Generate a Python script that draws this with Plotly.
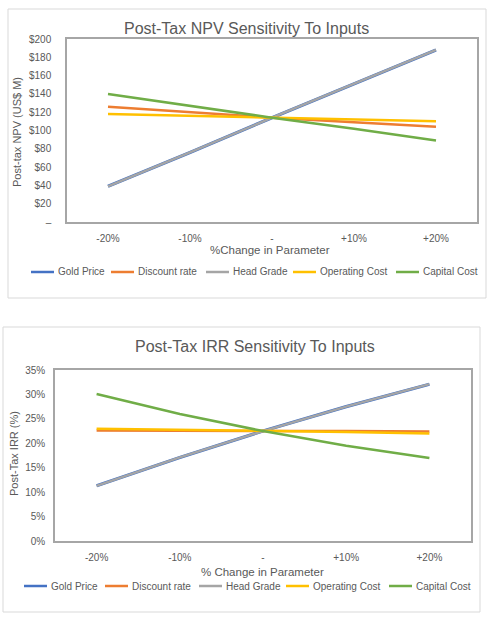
import plotly.graph_objects as go

W, H = 487, 621

categories = ["-20%", "-10%", "-", "+10%", "+20%"]
series_names = ["Gold Price", "Discount rate", "Head Grade", "Operating Cost", "Capital Cost"]
series_colors = ["#4472C4", "#ED7D31", "#A5A5A5", "#FFC000", "#70AD47"]

# Post-tax NPV (US$ M)
npv_gold = [39, 76, 114, 151, 188]
npv_discount = [126, 120, 114, 109, 104]
npv_grade = [39, 76, 114, 151, 188]
npv_opcost = [118, 116, 114, 112, 110]
npv_capcost = [140, 127, 114, 102, 89]

# Post-tax IRR (%)
irr_gold = [11.3, 17.1, 22.5, 27.5, 32.1]
irr_discount = [22.6, 22.5, 22.5, 22.5, 22.4]
irr_grade = [11.3, 17.1, 22.5, 27.5, 32.1]
irr_opcost = [23.0, 22.8, 22.5, 22.3, 22.0]
irr_capcost = [30.1, 26.0, 22.5, 19.5, 17.0]

npv_tickvals = [0, 20, 40, 60, 80, 100, 120, 140, 160, 180, 200]
npv_ticktext = ["–", "$20", "$40", "$60", "$80", "$100", "$120", "$140", "$160", "$180", "$200"]
irr_tickvals = [0, 5, 10, 15, 20, 25, 30, 35]
irr_ticktext = ["0%", "5%", "10%", "15%", "20%", "25%", "30%", "35%"]

FONT = "Liberation Sans, Arial, sans-serif"
TXT = "#595959"
LINE_W = [3.2, 2.5, 2.4, 2.5, 2.5]


def px_x(p):
    return p / W


def px_y(p):
    return 1 - p / H


fig = go.Figure()

npv_sets = [npv_gold, npv_discount, npv_grade, npv_opcost, npv_capcost]
irr_sets = [irr_gold, irr_discount, irr_grade, irr_opcost, irr_capcost]

for name, col, lw, vals in zip(series_names, series_colors, LINE_W, npv_sets):
    fig.add_trace(go.Scatter(x=categories, y=vals, name=name, mode="lines",
                             line=dict(color=col, width=lw), showlegend=False,
                             xaxis="x", yaxis="y"))
for name, col, lw, vals in zip(series_names, series_colors, LINE_W, irr_sets):
    fig.add_trace(go.Scatter(x=categories, y=vals, name=name, mode="lines",
                             line=dict(color=col, width=lw), showlegend=False,
                             xaxis="x2", yaxis="y2"))

axis_common = dict(showgrid=False, zeroline=False, showline=True, mirror=True,
                   linecolor="#A6A6A6", linewidth=1.5, ticks="", automargin=False,
                   tickfont=dict(family=FONT, size=10, color=TXT))

fig.update_layout(
    template="none",
    width=W, height=H, autosize=False,
    margin=dict(l=0, r=0, t=0, b=0, pad=0),
    paper_bgcolor="white", plot_bgcolor="white",
    font=dict(family=FONT, color=TXT),
    showlegend=False,
    xaxis=dict(domain=[px_x(67), px_x(477)], anchor="y", type="category",
               range=[-0.5, 4.5], ticklabelstandoff=6, **axis_common),
    yaxis=dict(domain=[px_y(222), px_y(39)], anchor="x", range=[0, 200],
               tickvals=npv_tickvals, ticktext=npv_ticktext,
               ticklabelstandoff=12, **axis_common),
    xaxis2=dict(domain=[px_x(55), px_x(471)], anchor="y2", type="category",
                range=[-0.5, 4.5], ticklabelstandoff=6, **axis_common),
    yaxis2=dict(domain=[px_y(541), px_y(370)], anchor="x2", range=[0, 35],
                tickvals=irr_tickvals, ticktext=irr_ticktext,
                ticklabelstandoff=6, **axis_common),
)

shapes = [
    dict(type="rect", xref="paper", yref="paper", x0=px_x(8), x1=px_x(486), y0=px_y(298), y1=px_y(9),
         line=dict(color="#D9D9D9", width=1), layer="below"),
    dict(type="rect", xref="paper", yref="paper", x0=px_x(3), x1=px_x(480), y0=px_y(612), y1=px_y(327),
         line=dict(color="#D9D9D9", width=1), layer="below"),
]


def ann(text, x, y, size, angle=0, xanchor="center"):
    return dict(text=text, xref="paper", yref="paper", x=px_x(x), y=px_y(y),
                xanchor=xanchor, yanchor="middle", textangle=angle, showarrow=False,
                font=dict(family=FONT, size=size, color=TXT))


annotations = [
    ann("Post-Tax NPV Sensitivity To Inputs", 246, 29, 16),
    ann("%Change in Parameter", 270, 250, 11.5),
    ann("Post-tax NPV (US$ M)", 17, 132, 11, angle=-90),
    ann("Post-Tax IRR Sensitivity To Inputs", 255, 346, 16),
    ann("% Change in Parameter", 262, 572, 11.5),
    ann("Post-Tax IRR (%)", 14, 454, 11, angle=-90),
]

# Legends (one row below each chart)
legend_rows = [
    (272, [31, 111, 206, 293, 396]),
    (586, [24, 105, 199, 286, 389]),
]
for ly, starts in legend_rows:
    for name, col, x0 in zip(series_names, series_colors, starts):
        shapes.append(dict(type="line", xref="paper", yref="paper",
                           x0=px_x(x0), x1=px_x(x0 + 23), y0=px_y(ly), y1=px_y(ly),
                           line=dict(color=col, width=2.5)))
        annotations.append(ann(name, x0 + 25, ly, 10, xanchor="left"))

fig.update_layout(shapes=shapes, annotations=annotations)

fig.write_html("out.html")
